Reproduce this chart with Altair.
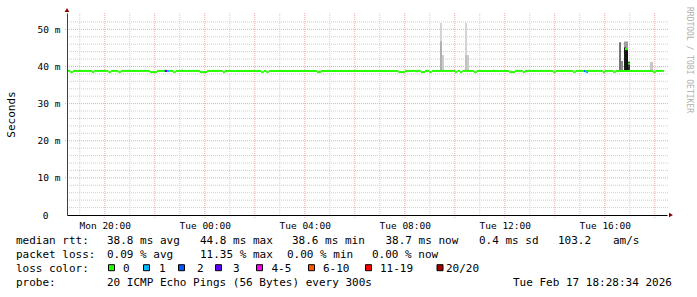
import altair as alt
import pandas as pd

# ---------------- data (hours since Mon 00:00, values in ms) ----------------
T0, T1 = 18.49, 42.49
Y_MAX = 54.4

tick_hours = [20, 24, 28, 32, 36, 40]
major_hours = [20, 22, 24, 26, 28, 30, 32, 34, 36, 38, 40, 42]
minor_hours = [19, 21, 23, 25, 27, 29, 31, 33, 35, 37, 39, 41]
y_ticks = [0, 10, 20, 30, 40, 50]
major_ms = [10, 20, 30, 40, 50]
minor_ms = [2, 4, 6, 8, 12, 14, 16, 18, 22, 24, 26, 28, 32, 34, 36, 38, 42, 44, 46, 48, 52]

median_base = 38.8
median_dip = 38.5
dip_start = [18.62, 19.49, 20.15, 20.55, 21.81, 22.74, 23.81, 24.72, 26.26, 26.46, 28.49,
             31.74, 32.64, 32.98, 34.01, 34.21, 34.77, 36.18, 36.72, 37.94, 38.74, 39.92,
             40.34, 41.94]
dip_end = [18.73, 19.58, 20.25, 20.65, 22.09, 22.84, 24.09, 24.81, 26.36, 26.56, 28.65,
           32.01, 32.81, 33.08, 34.10, 34.30, 34.88, 36.41, 36.81, 38.04, 38.84, 40.01,
           40.44, 42.04]
median_end = 42.37

loss_start = [22.40, 22.49, 39.17, 39.24, 40.81, 40.93]
loss_end = [22.49, 22.57, 39.22, 39.33, 40.93, 41.01]
loss_value = [38.8, 38.8, 38.8, 38.5, 44.7, 40.7]
loss_cat = ["3", "1", "2", "1", "0", "0"]

smoke_start = [23.09, 35.54, 33.41, 33.49, 34.41, 34.49, 41.81, 33.41, 34.41,
               40.77, 40.85, 40.65, 40.57, 40.93, 40.77, 40.85]
smoke_end = [23.13, 35.58, 33.49, 33.57, 34.49, 34.57, 41.93, 33.49, 34.49,
             40.85, 40.93, 40.73, 40.65, 41.01, 40.85, 40.93]
smoke_low = [38.8] * 16
smoke_high = [39.5, 39.5, 51.7, 43.1, 51.7, 43.1, 41.2, 46.7, 43.0,
              46.7, 46.7, 41.5, 46.5, 41.3, 45.1, 44.4]
smoke_density = [0.12, 0.12, 0.15, 0.18, 0.15, 0.18, 0.2, 0.28, 0.22,
                 0.35, 0.35, 0.4, 0.5, 0.8, 0.9, 0.95]

loss_labels = ["0", "1", "2", "3", "4-5", "6-10", "11-19", "20/20"]
loss_colors = ["#26ff00", "#00b8ff", "#0059ff", "#5e00ff", "#ff00f6", "#ff5500", "#ff0000", "#a10000"]

rtt_items = ["median rtt:", "38.8 ms avg", "44.8 ms max", "38.6 ms min", "38.7 ms now",
             "0.4 ms sd", "103.2", "am/s"]
loss_items = ["packet loss:", "0.09 % avg", "11.35 % max", "0.00 % min", "0.00 % now"]
probe_items = ["probe:", "20 ICMP Echo Pings (56 Bytes) every 300s", "Tue Feb 17 18:28:34 2026"]
color_title = "loss color:"
watermark_text = "RRDTOOL / TOBI OETIKER"

# ---------------- layout ----------------
W, H = 600, 202
LEFT, TOP = 67, 13
FONT = "DejaVu Sans Mono"

xs = alt.Scale(domain=[T0, T1], nice=False, zero=False)
ys = alt.Scale(domain=[0, Y_MAX], nice=False, zero=True)
cs = alt.Scale(domain=loss_labels, range=loss_colors)

# median segments
seg = []
prev = T0
for s, e in zip(dip_start, dip_end):
    seg.append((prev, s, median_base, "0"))
    seg.append((s, e, median_dip, "0"))
    prev = e
seg.append((prev, median_end, median_base, "0"))
for s, e, v, c in zip(loss_start, loss_end, loss_value, loss_cat):
    seg.append((s, e, v, c))
med_df = pd.DataFrame(seg, columns=["s", "e", "v", "c"])

smoke_df = pd.DataFrame({"s": smoke_start, "e": smoke_end, "lo": smoke_low,
                         "hi": smoke_high, "d": smoke_density})

xlabel = ("(datum.value < 24 ? 'Mon ' : 'Tue ') + (datum.value % 24 < 10 ? '0' : '') + "
          "(datum.value % 24) + ':00'")
ylabel = "datum.value == 0 ? '0' : datum.value + ' m'"

# identical axis definitions are given to every layer so that they merge cleanly
x_axis = alt.Axis(values=tick_hours, labelExpr=xlabel, grid=False, ticks=False,
                  domain=True, domainColor="#000000", labelColor="#000000",
                  labelFont=FONT, labelFontSize=9.5, labelPadding=5, title=None,
                  zindex=1)
y_axis = alt.Axis(values=y_ticks, labelExpr=ylabel, grid=False, ticks=False,
                  domain=True, domainColor="#404040", labelColor="#000000",
                  labelFont=FONT, labelFontSize=9.5,
                  labelPadding={"condition": {"test": "datum.value == 0", "value": 19},
                                "value": 7},
                  title="Seconds", titleFont=FONT, titleFontSize=11,
                  titleFontWeight="normal", titleColor="#000000",
                  titleX=-56, titleY=H / 2, titleAngle=270, titleAlign="center",
                  titleBaseline="middle", zindex=1)

GRID_MINOR = "#cfcfcf"
GRID_MAJOR = "#eeaaaa"

one = pd.DataFrame({"a": [0]})

minor_v = alt.Chart(pd.DataFrame({"h": minor_hours})).mark_rule(
    color=GRID_MINOR, strokeDash=[1, 1], strokeWidth=1).encode(
    x=alt.X("h:Q", scale=xs, axis=x_axis), y=alt.value(0), y2=alt.value(H))
minor_h = alt.Chart(pd.DataFrame({"v": minor_ms})).mark_rule(
    color=GRID_MINOR, strokeDash=[1, 1], strokeWidth=1).encode(
    y=alt.Y("v:Q", scale=ys, axis=y_axis), x=alt.value(0), x2=alt.value(W + 1))
major_v = alt.Chart(pd.DataFrame({"h": major_hours})).mark_rule(
    color=GRID_MAJOR, strokeDash=[1, 1], strokeWidth=1).encode(
    x=alt.X("h:Q", scale=xs, axis=x_axis), y=alt.value(0), y2=alt.value(H + 3))
major_h = alt.Chart(pd.DataFrame({"v": major_ms})).mark_rule(
    color=GRID_MAJOR, strokeDash=[1, 1], strokeWidth=1).encode(
    y=alt.Y("v:Q", scale=ys, axis=y_axis), x=alt.value(-2), x2=alt.value(W + 1))

smoke = alt.Chart(smoke_df).mark_rect().encode(
    x=alt.X("s:Q", scale=xs, axis=x_axis), x2="e:Q",
    y=alt.Y("lo:Q", scale=ys, axis=y_axis), y2="hi:Q",
    fill=alt.Fill("d:Q", scale=alt.Scale(domain=[0, 1], range=["#ffffff", "#000000"]),
                  legend=None))

median = alt.Chart(med_df).mark_rule(strokeWidth=2, strokeCap="butt").encode(
    x=alt.X("s:Q", scale=xs, axis=x_axis), x2="e:Q",
    y=alt.Y("v:Q", scale=ys, axis=y_axis),
    stroke=alt.Stroke("c:N", scale=cs, legend=None))

arrow_up = alt.Chart(one).mark_point(
    shape="triangle-up", filled=True, color="#8b0000", size=22, opacity=1).encode(
    x=alt.value(0), y=alt.value(-3))
arrow_right = alt.Chart(one).mark_point(
    shape="triangle-right", filled=True, color="#8b0000", size=22, opacity=1).encode(
    x=alt.value(W + 4), y=alt.value(H))

# legend text (absolute pixel layout)
txt_rows = []
rtt_x = [16, 107, 200, 292, 385.5, 479, 558, 613]
for t, x in zip(rtt_items, rtt_x):
    txt_rows.append((t, x, 241))
loss_x = [16, 107, 200, 287, 372]
for t, x in zip(loss_items, loss_x):
    txt_rows.append((t, x, 255))
txt_rows.append((color_title, 16, 269))
probe_x = [16, 107, 513]
for t, x in zip(probe_items, probe_x):
    txt_rows.append((t, x, 283))
lab_x = [123, 159, 197, 233, 271.5, 323, 380, 446]
for t, x in zip(loss_labels, lab_x):
    txt_rows.append((t, x, 269))

text_layers = []
for t, x, y in txt_rows:
    text_layers.append(alt.Chart(one).mark_text(
        font=FONT, fontSize=11, align="left", baseline="middle", color="#000000").encode(
        text=alt.value(t), x=alt.value(x - LEFT), y=alt.value(y - TOP)))

sw_x = [111.5, 146.5, 181.5, 218.5, 259.5, 311.5, 368.5, 440]
sw_layers = []
for col, x in zip(loss_colors, sw_x):
    sw_layers.append(alt.Chart(one).mark_square(
        size=36, opacity=1, stroke="#000000", strokeWidth=1, fill=col).encode(
        x=alt.value(x - LEFT), y=alt.value(267.7 - TOP)))

watermark = alt.Chart(one).mark_text(
    font=FONT, fontSize=8, angle=90, align="center", baseline="middle",
    color="#b0b0b0").encode(text=alt.value(watermark_text),
                            x=alt.value(688.5 - LEFT), y=alt.value(60 - TOP))

chart = alt.layer(minor_v, minor_h, major_v, major_h, smoke, median,
                  arrow_up, arrow_right, *text_layers, *sw_layers, watermark).properties(
    width=W, height=H, autosize=alt.AutoSizeParams(type="none"),
    padding={"left": LEFT, "top": TOP, "right": 697 - LEFT - W, "bottom": 297 - TOP - H},
    background="#ffffff").configure_view(strokeWidth=0)

chart.save("out.html", embed_options={"renderer": "svg", "actions": False})
